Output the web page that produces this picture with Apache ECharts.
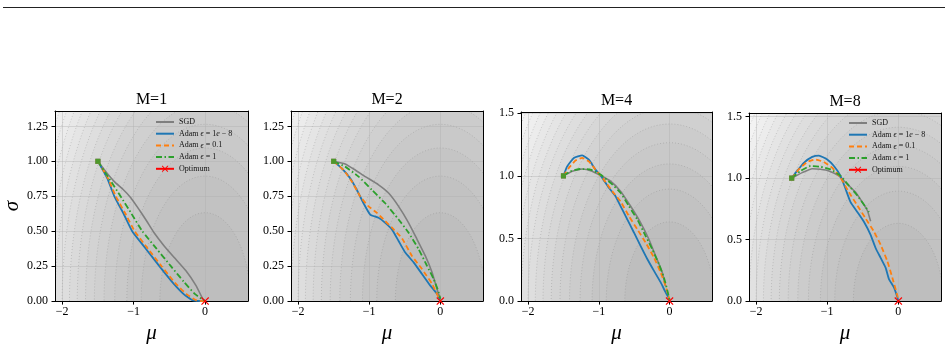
<!DOCTYPE html>
<html>
<head>
<meta charset="utf-8">
<script src="https://cdn.jsdelivr.net/npm/echarts@6.0.0/dist/echarts.min.js"></script>
<style>
  html, body { margin: 0; padding: 0; background: #fff; }
  #chart { width: 948px; height: 349px; }
</style>
</head>
<body>
<div id="chart"></div>
<script>
// panel titles and axis ticks
const panelTitles = ['M=1', 'M=2', 'M=4', 'M=8'];
const xTicks = [-2, -1, 0];
const yTicksLow = [0, 0.25, 0.5, 0.75, 1.0, 1.25];
const yTicksHigh = [0, 0.5, 1.0, 1.5];
const xLimits = [-2.1, 0.6];
const yMax = [1.36, 1.36, 1.51, 1.53];

// contour levels of the loss surface (mu^2 + sigma^2)
const contourLevels = [0.4, 0.8, 1.2, 1.6, 2.0, 2.4, 2.8, 3.2, 3.6, 4.0, 4.4, 4.8, 5.2, 5.6, 6.0, 6.4, 6.8];

// trajectories [mu, sigma]
const sgdM1 = [[-1.5, 1.0], [-1.38, 0.92], [-1.27, 0.855], [-1.15, 0.8], [-1.04, 0.74], [-0.93, 0.66], [-0.82, 0.575], [-0.714, 0.489], [-0.573, 0.395], [-0.432, 0.312], [-0.268, 0.217], [-0.127, 0.111], [-0.033, 0.016], [0, 0]];
const adam8M1 = [[-1.5, 1.0], [-1.37, 0.88], [-1.27, 0.75], [-1.14, 0.625], [-1.02, 0.5], [-0.83, 0.375], [-0.64, 0.25], [-0.45, 0.13], [-0.3, 0.05], [-0.17, 0.005], [0, 0]];
const adam01M1 = [[-1.5, 1.0], [-1.36, 0.88], [-1.25, 0.75], [-1.115, 0.625], [-0.985, 0.5], [-0.8, 0.375], [-0.61, 0.25], [-0.42, 0.13], [-0.26, 0.05], [-0.12, 0.005], [0, 0]];
const adam1M1 = [[-1.5, 1.0], [-1.34, 0.875], [-1.183, 0.75], [-1.03, 0.625], [-0.878, 0.5], [-0.68, 0.375], [-0.479, 0.25], [-0.3, 0.14], [-0.14, 0.05], [0, 0]];

const sgdM2 = [[-1.5, 1.0], [-1.338, 0.981], [-1.197, 0.938], [-1.056, 0.891], [-0.869, 0.832], [-0.728, 0.773], [-0.587, 0.678], [-0.446, 0.56], [-0.328, 0.442], [-0.211, 0.323], [-0.117, 0.206], [-0.047, 0.087], [0, 0.016]];
const adam8M2 = [[-1.5, 1.0], [-1.385, 0.95], [-1.268, 0.879], [-1.174, 0.796], [-1.08, 0.7], [-0.986, 0.619], [-0.869, 0.596], [-0.775, 0.56], [-0.681, 0.513], [-0.587, 0.43], [-0.493, 0.347], [-0.376, 0.277], [-0.258, 0.194], [-0.141, 0.111], [-0.047, 0.052], [0, 0.004]];
const adam01M2 = [[-1.5, 1.0], [-1.362, 0.938], [-1.244, 0.855], [-1.127, 0.749], [-1.01, 0.678], [-0.892, 0.631], [-0.775, 0.572], [-0.657, 0.513], [-0.54, 0.45], [-0.399, 0.323], [-0.258, 0.229], [-0.117, 0.123], [0, 0]];
const adam1M2 = [[-1.5, 1.0], [-1.338, 0.962], [-1.15, 0.891], [-0.962, 0.796], [-0.775, 0.7], [-0.587, 0.584], [-0.446, 0.489], [-0.305, 0.371], [-0.188, 0.253], [-0.094, 0.158], [-0.023, 0.063], [0, 0.016]];

const sgdM4 = [[-1.5, 1.0], [-1.376, 1.037], [-1.235, 1.055], [-1.094, 1.037], [-0.976, 1.002], [-0.834, 0.957], [-0.693, 0.878], [-0.552, 0.759], [-0.41, 0.627], [-0.292, 0.494], [-0.198, 0.362], [-0.104, 0.23], [-0.057, 0.119]];
const adam8M4 = [[-1.5, 1.0], [-1.447, 1.076], [-1.353, 1.143], [-1.235, 1.164], [-1.141, 1.129], [-1.047, 1.05], [-0.952, 0.984], [-0.858, 0.905], [-0.764, 0.838], [-0.693, 0.759], [-0.598, 0.653], [-0.504, 0.548], [-0.41, 0.441], [-0.315, 0.336], [-0.222, 0.243], [-0.127, 0.151], [-0.057, 0.071], [0, 0.013]];
const adam01M4 = [[-1.5, 1.0], [-1.424, 1.063], [-1.33, 1.122], [-1.235, 1.143], [-1.141, 1.116], [-1.047, 1.05], [-0.929, 0.97], [-0.811, 0.878], [-0.693, 0.796], [-0.575, 0.679], [-0.457, 0.574], [-0.339, 0.468], [-0.222, 0.349], [-0.127, 0.23], [-0.057, 0.124], [0, 0.008]];
const adam1M4 = [[-1.5, 1.0], [-1.4, 1.037], [-1.259, 1.055], [-1.117, 1.05], [-0.976, 1.01], [-0.834, 0.944], [-0.693, 0.865], [-0.575, 0.759], [-0.457, 0.653], [-0.339, 0.521], [-0.245, 0.415], [-0.151, 0.296], [-0.081, 0.19], [-0.033, 0.089], [0, 0.008]];

const sgdM8 = [[-1.5, 1.0], [-1.352, 1.045], [-1.211, 1.077], [-1.094, 1.072], [-0.977, 1.059], [-0.836, 1.019], [-0.719, 0.952], [-0.601, 0.885], [-0.507, 0.805], [-0.437, 0.739], [-0.39, 0.65]];
const adam8M8 = [[-1.5, 1.0], [-1.423, 1.059], [-1.329, 1.125], [-1.211, 1.173], [-1.117, 1.184], [-1.0, 1.152], [-0.906, 1.099], [-0.813, 1.019], [-0.742, 0.912], [-0.672, 0.805], [-0.577, 0.725], [-0.484, 0.645], [-0.39, 0.539], [-0.32, 0.432], [-0.249, 0.352], [-0.179, 0.272], [-0.132, 0.179], [-0.062, 0.112], [-0.014, 0.032], [0, 0]];
const adam01M8 = [[-1.5, 1.0], [-1.4, 1.072], [-1.282, 1.131], [-1.165, 1.152], [-1.047, 1.131], [-0.93, 1.085], [-0.813, 1.005], [-0.695, 0.885], [-0.577, 0.779], [-0.46, 0.672], [-0.343, 0.565], [-0.249, 0.459], [-0.155, 0.325], [-0.085, 0.192], [-0.014, 0.045], [0, 0]];
const adam1M8 = [[-1.5, 1.0], [-1.376, 1.059], [-1.235, 1.099], [-1.094, 1.093], [-0.953, 1.072], [-0.813, 1.019], [-0.695, 0.939], [-0.577, 0.859], [-0.46, 0.765], [-0.413, 0.725]];

const optimum = [[0, 0]];

const methodNames = ['SGD', 'Adam 1e-8', 'Adam 0.1', 'Adam 1'];
const trajectories = [
  [sgdM1, adam8M1, adam01M1, adam1M1],
  [sgdM2, adam8M2, adam01M2, adam1M2],
  [sgdM4, adam8M4, adam01M4, adam1M4],
  [sgdM8, adam8M8, adam01M8, adam1M8]
];

const serif = 'Liberation Serif';
const methodStyles = [
  { color: '#7f7f7f', width: 1.6, type: 'solid' },
  { color: '#1f77b4', width: 1.8, type: 'solid' },
  { color: '#ff7f0e', width: 1.8, type: [5, 3] },
  { color: '#2ca02c', width: 1.8, type: [6, 2.5, 1.5, 2.5] }
];

const grids = [
  { left: 55, top: 111, width: 193, height: 191 },
  { left: 291, top: 111, width: 192, height: 191 },
  { left: 521, top: 112, width: 191, height: 190 },
  { left: 749, top: 113, width: 192, height: 191 }
];

const shadeOf = k => Math.round(190 + 3.5 * k);

// filled contour bands, drawn from outer to inner
const renderContour = (params, api) => {
  const level = api.value(0);
  const r = Math.sqrt(level);
  const pts = [];
  for (let k = 0; k <= 120; k++) {
    const t = Math.PI * k / 120;
    pts.push(api.coord([r * Math.cos(t), r * Math.sin(t)]));
  }
  const band = contourLevels.indexOf(level);
  const g = shadeOf(band);
  return {
    type: 'group',
    children: [
      { type: 'polygon', shape: { points: pts }, style: { fill: `rgb(${g},${g},${g})` } },
      { type: 'polyline', shape: { points: pts }, style: { fill: null, stroke: 'rgba(120,120,120,0.45)', lineWidth: 0.7, lineDash: [1, 2] } }
    ]
  };
};

const xAxes = [];
const yAxes = [];
const series = [];
const graphics = [
  { type: 'line', shape: { x1: 3, y1: 7.5, x2: 945, y2: 7.5 }, style: { stroke: '#222', lineWidth: 1 } }
];

grids.forEach((g, i) => {
  const yTicks = i < 2 ? yTicksLow : yTicksHigh;
  const digits = i < 2 ? 2 : 1;
  xAxes.push({
    type: 'value', gridIndex: i, min: xLimits[0], max: xLimits[1], z: 3,
    axisLine: { show: true, onZero: false, lineStyle: { color: '#000', width: 1 } },
    axisTick: { show: true, length: 3.5, customValues: xTicks, lineStyle: { color: '#000' } },
    axisLabel: { customValues: xTicks, margin: 5, color: '#000', fontFamily: serif, fontSize: 12,
      formatter: v => (v < 0 ? '\u2212' + Math.abs(v) : String(v)) },
    splitLine: { show: true, lineStyle: { color: 'rgba(176,176,176,0.5)', width: 0.8 } },
    name: 'μ', nameLocation: 'middle', nameGap: 18,
    nameTextStyle: { fontFamily: serif, fontStyle: 'italic', fontSize: 21, color: '#000' }
  });
  xAxes.push({
    type: 'value', gridIndex: i, position: 'top', min: xLimits[0], max: xLimits[1], z: 3,
    axisLine: { show: true, onZero: false, lineStyle: { color: '#000', width: 1 } },
    axisTick: { show: false }, axisLabel: { show: false }, splitLine: { show: false }
  });
  yAxes.push({
    type: 'value', gridIndex: i, min: 0, max: yMax[i], z: 3,
    axisLine: { show: true, onZero: false, lineStyle: { color: '#000', width: 1 } },
    axisTick: { show: true, length: 3.5, customValues: yTicks, lineStyle: { color: '#000' } },
    axisLabel: { customValues: yTicks, margin: 7, color: '#000', fontFamily: serif, fontSize: 12,
      formatter: v => v.toFixed(digits) },
    splitLine: { show: true, lineStyle: { color: 'rgba(176,176,176,0.5)', width: 0.8 } },
    name: i === 0 ? 'σ' : '', nameLocation: 'middle', nameGap: 28,
    nameTextStyle: { fontFamily: serif, fontStyle: 'italic', fontSize: 21, color: '#000' }
  });
  yAxes.push({
    type: 'value', gridIndex: i, position: 'right', min: 0, max: yMax[i], z: 3,
    axisLine: { show: true, onZero: false, lineStyle: { color: '#000', width: 1 } },
    axisTick: { show: false }, axisLabel: { show: false }, splitLine: { show: false }
  });

  series.push({
    type: 'custom', name: 'loss', xAxisIndex: 2 * i, yAxisIndex: 2 * i, z: 1, clip: true, silent: true,
    renderItem: renderContour,
    data: contourLevels.slice().reverse().map(v => [v])
  });

  trajectories[i].forEach((pts, m) => {
    const st = methodStyles[m];
    series.push({
      type: 'line', name: methodNames[m], xAxisIndex: 2 * i, yAxisIndex: 2 * i, z: 4,
      symbol: 'none', smooth: 0.15, data: pts,
      lineStyle: { color: st.color, width: st.width, type: st.type },
      itemStyle: { color: st.color }
    });
  });
  trajectories[i].forEach((pts, m) => {
    series.push({
      type: 'scatter', name: 'start', xAxisIndex: 2 * i, yAxisIndex: 2 * i, z: 5,
      symbol: 'rect', symbolSize: 5, data: [pts[0]],
      itemStyle: { color: methodStyles[m].color }
    });
  });
  series.push({
    type: 'line', name: 'Optimum', xAxisIndex: 2 * i, yAxisIndex: 2 * i, z: 6,
    symbol: 'path://M0,1L1,0L5,4L9,0L10,1L6,5L10,9L9,10L5,6L1,10L0,9L4,5Z', symbolSize: 8,
    showSymbol: true, data: optimum,
    lineStyle: { color: '#ff0000', width: 1 }, itemStyle: { color: '#ff0000' }
  });

  graphics.push({
    type: 'text', x: g.left + g.width / 2, y: g.top - 19,
    style: { text: panelTitles[i], align: 'center', fontFamily: serif, fontSize: 16, fill: '#000' }
  });
});

const legendLabels = {
  'SGD': 'SGD',
  'Adam 1e-8': 'Adam {i|ϵ} = 1{i|e} − 8',
  'Adam 0.1': 'Adam {i|ϵ} = 0.1',
  'Adam 1': 'Adam {i|ϵ} = 1',
  'Optimum': 'Optimum'
};
const legendBase = {
  orient: 'vertical', padding: 0, itemWidth: 18, itemHeight: 8, itemGap: 3.7,
  data: methodNames.map(n => ({ name: n, itemStyle: { opacity: 0 } })).concat([{ name: 'Optimum' }]),
  formatter: name => legendLabels[name],
  textStyle: { fontFamily: serif, fontSize: 8, color: '#111', lineHeight: 8,
    rich: { i: { fontFamily: serif, fontStyle: 'italic', fontSize: 8, lineHeight: 8 } } }
};

const chart = echarts.init(document.getElementById('chart'), null, { renderer: 'canvas' });
chart.setOption({
  animation: false,
  backgroundColor: '#fff',
  grid: grids.map(g => Object.assign({ show: true, backgroundColor: `rgb(${shadeOf(17)},${shadeOf(17)},${shadeOf(17)})`, borderWidth: 0 }, g)),
  xAxis: xAxes,
  yAxis: yAxes,
  legend: [
    Object.assign({ left: 155, top: 118 }, legendBase),
    Object.assign({ left: 848, top: 119 }, legendBase)
  ],
  graphic: graphics,
  series: series
});
</script>
</body>
</html>
